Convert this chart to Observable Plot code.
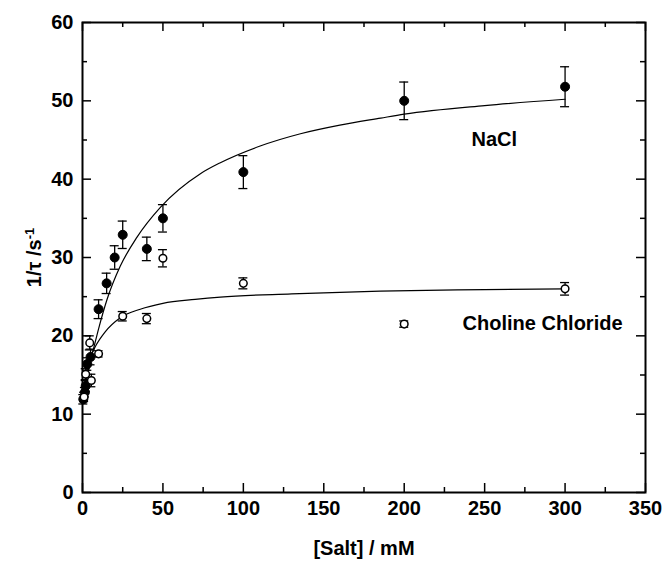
<!DOCTYPE html>
<html>
<head>
<meta charset="utf-8">
<script src="https://cdn.jsdelivr.net/npm/d3@7"></script>
<script src="https://cdn.jsdelivr.net/npm/@observablehq/plot@0.6"></script>
<style>
  html, body { margin: 0; padding: 0; background: #fff; }
  svg { font-family: "Liberation Sans", Arial, sans-serif; }
</style>
</head>
<body>
<div id="chart"></div>
<script>
// NaCl data (filled circles)
const naclX   = [0.5, 1.5, 2, 3, 5, 10, 15, 20, 25, 40, 50, 100, 200, 300];
const naclY   = [11.9, 12.8, 13.6, 16.4, 17.3, 23.4, 26.7, 30.0, 32.9, 31.1, 35.0, 40.9, 50.0, 51.8];
const naclErr = [0.6, 0.6, 0.7, 0.8, 1.0, 1.2, 1.3, 1.5, 1.75, 1.5, 1.75, 2.1, 2.4, 2.55];

// Choline Chloride data (open circles)
const cholX   = [1, 2, 4.5, 5.5, 10, 25, 40, 50, 100, 200, 300];
const cholY   = [12.2, 15.1, 19.1, 14.3, 17.7, 22.5, 22.2, 29.9, 26.7, 21.5, 26.0];
const cholErr = [0.6, 0.7, 0.9, 0.8, 0.4, 0.6, 0.65, 1.1, 0.7, 0.4, 0.8];

// Fitted curves
const naclFitX = [0, 1, 2.7, 5, 6.9, 10, 15.2, 23.5, 33.9, 48.4, 73.3, 85.7, 110, 135.5, 160, 185.4, 200, 250, 300];
const naclFitY = [12, 13.2, 14.6, 16.9, 18.4, 20.9, 24.6, 28.9, 32.6, 36.4, 40.7, 42.1, 44.2, 45.8, 46.9, 47.8, 48.3, 49.4, 50.2];
const cholFitX = [1, 3, 5.8, 7.9, 14.1, 23.5, 35.9, 50, 70, 85.7, 130, 185, 250, 300];
const cholFitY = [13.6, 15.9, 17.7, 18.6, 20.5, 22.3, 23.4, 24.15, 24.65, 24.95, 25.35, 25.7, 25.9, 26.0];

// Ticks
const xMajor = [0, 50, 100, 150, 200, 250, 300, 350];
const xMinor = [25, 75, 125, 175, 225, 275, 325];
const yMajor = [0, 10, 20, 30, 40, 50, 60];
const yMinor = [5, 15, 25, 35, 45, 55];

// Annotations
const labelText = ["NaCl", "Choline Chloride"];
const labelX = [256, 286];
const labelY = [45, 21.6];

const nacl = naclX.map((x, i) => ({x, y: naclY[i], e: naclErr[i]}));
const chol = cholX.map((x, i) => ({x, y: cholY[i], e: cholErr[i]}));
const naclFit = naclFitX.map((x, i) => ({x, y: naclFitY[i]}));
const cholFit = cholFitX.map((x, i) => ({x, y: cholFitY[i]}));
const labels = labelText.map((t, i) => ({t, x: labelX[i], y: labelY[i]}));

const W = 664, H = 569;
const mL = 82, mR = 19, mT = 22, mB = 77;
const pw = W - mL - mR, ph = H - mT - mB;
const majorLen = 9, minorLen = 5;

function errMarks(data) {
  return [
    Plot.ruleX(data, {x: "x", y1: d => d.y - d.e, y2: d => d.y + d.e, stroke: "black", strokeWidth: 1.3}),
    Plot.ruleY(data, {y: d => d.y - d.e, x1: "x", x2: "x", insetLeft: -4.5, insetRight: -4.5, stroke: "black", strokeWidth: 1.3}),
    Plot.ruleY(data, {y: d => d.y + d.e, x1: "x", x2: "x", insetLeft: -4.5, insetRight: -4.5, stroke: "black", strokeWidth: 1.3})
  ];
}

const chart = Plot.plot({
  width: W,
  height: H,
  marginLeft: mL,
  marginRight: mR,
  marginTop: mT,
  marginBottom: mB,
  style: {fontFamily: '"Liberation Sans", Arial, sans-serif', fontSize: "20px", fontWeight: "bold", color: "black", background: "white"},
  x: {domain: [0, 350]},
  y: {domain: [0, 60]},
  marks: [
    // inward ticks: bottom, top, left, right
    Plot.tickX(xMajor, {x: d => d, insetTop: ph - majorLen, stroke: "black", strokeWidth: 1.5}),
    Plot.tickX(xMinor, {x: d => d, insetTop: ph - minorLen, stroke: "black", strokeWidth: 1.5}),
    Plot.tickX(xMajor, {x: d => d, insetBottom: ph - majorLen, stroke: "black", strokeWidth: 1.5}),
    Plot.tickX(xMinor, {x: d => d, insetBottom: ph - minorLen, stroke: "black", strokeWidth: 1.5}),
    Plot.tickY(yMajor, {y: d => d, insetRight: pw - majorLen, stroke: "black", strokeWidth: 1.5}),
    Plot.tickY(yMinor, {y: d => d, insetRight: pw - minorLen, stroke: "black", strokeWidth: 1.5}),
    Plot.tickY(yMajor, {y: d => d, insetLeft: pw - majorLen, stroke: "black", strokeWidth: 1.5}),
    Plot.tickY(yMinor, {y: d => d, insetLeft: pw - minorLen, stroke: "black", strokeWidth: 1.5}),
    Plot.axisX({ticks: xMajor, tickSize: 0, tickPadding: 8, fontSize: 20, fontWeight: "bold",
      label: "[Salt] / mM", labelAnchor: "center", labelArrow: "none", labelOffset: 62}),
    Plot.axisY({ticks: yMajor, tickSize: 0, tickPadding: 9, fontSize: 20, fontWeight: "bold",
      label: "1/τ /s-1", labelAnchor: "center", labelArrow: "none", labelOffset: 56}),
    Plot.frame({stroke: "black", strokeWidth: 2}),
    // fitted curves
    Plot.line(naclFit, {x: "x", y: "y", curve: "monotone-x", stroke: "black", strokeWidth: 1.2}),
    Plot.line(cholFit, {x: "x", y: "y", curve: "monotone-x", stroke: "black", strokeWidth: 1.2}),
    // error bars
    ...errMarks(nacl),
    ...errMarks(chol),
    // points
    Plot.dot(nacl, {x: "x", y: "y", r: 4.5, fill: "black", stroke: "black", strokeWidth: 1}),
    Plot.dot(chol, {x: "x", y: "y", r: 3.8, fill: "white", stroke: "black", strokeWidth: 1.5}),
    // annotations
    Plot.text(labels, {x: "x", y: "y", text: "t", fontSize: 20, fontWeight: "bold", fill: "black", textAnchor: "middle"})
  ]
});

document.getElementById("chart").appendChild(chart);

// superscript for the y-axis label
d3.select(chart).selectAll("text").each(function () {
  const t = d3.select(this);
  if (t.text() === "1/τ /s-1") {
    t.text(null);
    t.append("tspan").text("1/τ /s");
    t.append("tspan").attr("baseline-shift", "super").attr("font-size", "13px").text("-1");
  }
});
</script>
</body>
</html>
